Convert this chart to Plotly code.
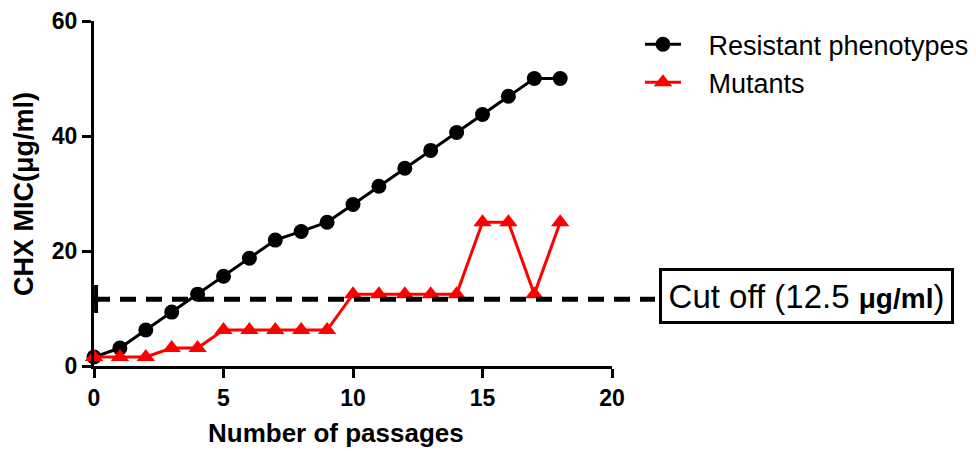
import plotly.graph_objects as go

passages = list(range(19))
resistant = [1.56, 3.125, 6.25, 9.375, 12.5, 15.6, 18.75, 21.9, 23.4, 25.0,
             28.1, 31.25, 34.4, 37.5, 40.6, 43.75, 46.9, 50.0, 50.0]
mutants = [1.56, 1.56, 1.56, 3.125, 3.125, 6.25, 6.25, 6.25, 6.25, 6.25,
           12.5, 12.5, 12.5, 12.5, 12.5, 25.0, 25.0, 12.5, 25.0]
series_names = ["Resistant phenotypes", "Mutants"]
cutoff_line = 11.6
x_range = [0, 20]
y_range = [0, 60]

FONT = "Liberation Sans, Arial, sans-serif"
PAD = "\u00a0\u00a0\u00a0"

fig = go.Figure()
fig.add_trace(go.Scatter(
    x=passages, y=resistant, name=PAD + series_names[0], mode="lines+markers",
    line=dict(color="black", width=3),
    marker=dict(symbol="circle", size=15, color="black"),
    cliponaxis=False))
fig.add_trace(go.Scatter(
    x=passages, y=mutants, name=PAD + series_names[1], mode="lines+markers",
    line=dict(color="#ff0000", width=3),
    marker=dict(symbol="triangle-up", size=16, color="#ff0000"),
    cliponaxis=False))

fig.add_shape(type="line", xref="paper", yref="paper",
              x0=0, x1=1.083,
              y0=(cutoff_line - y_range[0]) / (y_range[1] - y_range[0]),
              y1=(cutoff_line - y_range[0]) / (y_range[1] - y_range[0]),
              line=dict(color="black", width=5, dash="16px,10px"))
fig.add_shape(type="line", xref="paper", yref="paper",
              x0=0.004, x1=0.004, y0=0.1536, y1=0.2348,
              line=dict(color="black", width=4))

fig.add_annotation(
    xref="paper", yref="paper", x=1.3764, y=0.2029,
    xanchor="center", yanchor="middle", showarrow=False,
    text='Cut off (12.5 <span style="font-size:28px"><b>μg/ml</b></span>)',
    font=dict(family=FONT, size=33, color="black"),
    bordercolor="black", borderwidth=3, borderpad=2,
    width=285, height=46, bgcolor="white")

fig.add_annotation(
    xref="paper", yref="paper", x=0.467, y=-0.194,
    xanchor="center", yanchor="middle", showarrow=False,
    text="Number of passages",
    font=dict(family=FONT, size=26, color="black", weight="bold"))
fig.add_annotation(
    xref="paper", yref="paper", x=-0.135, y=0.4986,
    xanchor="center", yanchor="middle", showarrow=False, textangle=-90,
    text="CHX MIC(μg/ml)",
    font=dict(family=FONT, size=27, color="black", weight="bold"))

axis_common = dict(showgrid=False, zeroline=False, showline=True,
                   linecolor="black", linewidth=3, ticks="outside",
                   ticklen=9, tickwidth=3, tickcolor="black",
                   tickfont=dict(family=FONT, size=23, color="black", weight="bold"))
fig.update_xaxes(range=x_range, dtick=5, tick0=0, **axis_common)
fig.update_yaxes(range=y_range, dtick=20, tick0=0, **axis_common)

fig.update_layout(
    width=976, height=451,
    margin=dict(l=94, r=364, t=21, b=85, autoexpand=False),
    plot_bgcolor="white", paper_bgcolor="white",
    showlegend=True,
    legend=dict(xref="container", yref="container",
                x=0.6557, y=0.9553, xanchor="left", yanchor="top",
                font=dict(family=FONT, size=27, color="black"),
                bgcolor="rgba(0,0,0,0)", itemwidth=36),
)

fig.write_html("out.html")
